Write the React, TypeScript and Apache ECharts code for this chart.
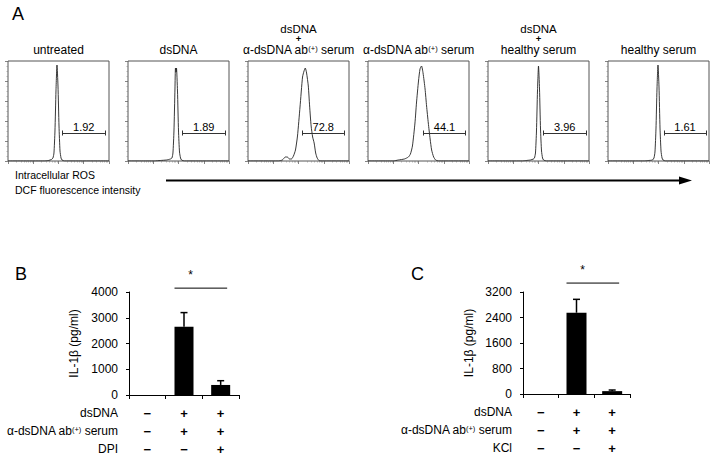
import React, { useEffect, useRef } from "react";
import * as echarts from "echarts";

// ---------- Panel A: ROS histograms (x = position on log-fluorescence scale, 0-100; y = % of max events) ----------
const histTitles: string[][] = [
  ["untreated"],
  ["dsDNA"],
  ["dsDNA", "+", "α-dsDNA ab{sup|(+)} serum"],
  ["α-dsDNA ab{sup|(+)} serum"],
  ["dsDNA", "+", "healthy serum"],
  ["healthy serum"],
];
const gateValues = ["1.92", "1.89", "72.8", "44.1", "3.96", "1.61"];
const gateStart = [54, 54, 54, 55, 55, 55.5];
const gateEnd = [96, 96, 95, 96.5, 97, 97];
const gateLevel = 28;

const histUntreated = [[0, 0], [36, 0], [40, 0.5], [43, 1.5], [44.5, 3], [45.5, 8], [46.5, 30], [47.5, 70], [48.5, 96], [49.5, 75], [50.5, 35], [51.5, 10], [52.5, 3], [53.5, 1], [56, 0], [100, 0]];
const histDsDNA = [[0, 0], [26, 0], [32, 0.5], [38, 1], [42, 2], [43.5, 3], [44.5, 8], [45.5, 30], [46.5, 72], [47, 93], [47.6, 89], [48, 93], [49, 70], [50, 30], [51, 9], [52, 3], [53, 1], [56, 0], [100, 0]];
const histDsDNAPosSerum = [[0, 0], [30, 0], [34, 1], [37, 4], [39, 4], [41, 2], [43, 2], [45, 5], [47, 11], [49, 25], [51.5, 54], [54, 84], [55.5, 90], [56.7, 93], [58, 88], [59.7, 75], [61, 55], [62.5, 35], [64, 24], [65.5, 18], [67, 8], [68.5, 3], [71, 0], [100, 0]];
const histPosSerum = [[0, 0], [25, 0], [30, 1], [36, 2], [40, 4], [42, 7], [44, 15], [46.5, 38], [48, 58], [50, 80], [51.5, 92], [53, 95], [54.5, 88], [56.5, 72], [58, 55], [59.7, 38], [61.5, 22], [63, 11], [65, 4], [67, 1], [70, 0], [100, 0]];
const histDsDNAHealthy = [[0, 0], [34, 0], [38, 0.5], [42, 1], [45, 2], [46, 3], [47, 8], [48, 30], [49, 70], [50, 95], [51, 72], [52, 32], [53, 10], [54, 3], [55, 1], [58, 0], [100, 0]];
const histHealthy = [[0, 0], [36, 0], [40, 0.5], [44, 1], [45.5, 3], [46.5, 9], [47.5, 32], [48.5, 72], [49.5, 96], [50.5, 74], [51.5, 33], [52.5, 10], [53.5, 3], [54.5, 1], [57, 0], [100, 0]];
const histograms = [histUntreated, histDsDNA, histDsDNAPosSerum, histPosSerum, histDsDNAHealthy, histHealthy];

// ---------- Panels B and C: IL-1β ----------
const groups = ["g1", "g2", "g3"];
const rowLabelsB = ["dsDNA", "α-dsDNA ab{sup|(+)} serum", "DPI"];
const rowLabelsC = ["dsDNA", "α-dsDNA ab{sup|(+)} serum", "KCl"];
const rowSignsB = [["−", "+", "+"], ["−", "+", "+"], ["−", "−", "+"]];
const rowSignsC = [["−", "+", "+"], ["−", "+", "+"], ["−", "−", "+"]];
const il1bB = [0, 2650, 390];
const errB = [0, 550, 165];
const il1bC = [0, 2550, 90];
const errC = [0, 420, 35];
const yMaxB = 4000, yStepB = 1000;
const yMaxC = 3200, yStepC = 800;
const sigB = [1, 2, 4150];
const sigC = [1, 2, 3480];

const FONT = "Liberation Sans, Arial, Helvetica, sans-serif";
const richSup = {
  sup: { fontSize: 7.5, verticalAlign: "top", lineHeight: 11, fontFamily: FONT, color: "#000" },
};

export default function App() {
  const ref = useRef<HTMLDivElement>(null);
  useEffect(() => {
    if (!ref.current) return;
    const chart = echarts.init(ref.current, null, { renderer: "svg" });

    const grids: any[] = [];
    const xAxes: any[] = [];
    const yAxes: any[] = [];
    const series: any[] = [];
    const graphics: any[] = [];

    // ---- Panel A histograms ----
    histograms.forEach((data, i) => {
      const left = 8 + 120 * i;
      grids.push({ left, top: 61, width: 101, height: 100, show: true, borderColor: "#555", borderWidth: 1 });
      xAxes.push({ gridIndex: i, type: "value", min: 0, max: 100, show: false });
      xAxes.push({
        gridIndex: i, type: "log", min: 1, max: 10000, logBase: 10, position: "bottom",
        axisLine: { show: false }, axisLabel: { show: false }, splitLine: { show: false },
        axisTick: { show: true, length: 3, lineStyle: { color: "#666", width: 0.8 } },
        minorTick: { show: true, splitNumber: 8, length: 1.5, lineStyle: { color: "#888", width: 0.6 } },
      });
      yAxes.push({
        gridIndex: i, type: "value", min: 0, max: 100, interval: 20,
        axisLine: { show: false }, axisLabel: { show: false }, splitLine: { show: false },
        axisTick: { show: true, length: 3, lineStyle: { color: "#666", width: 0.8 } },
        minorTick: { show: true, splitNumber: 4, length: 1.5, lineStyle: { color: "#888", width: 0.6 } },
      });
      series.push({
        type: "line", xAxisIndex: 2 * i, yAxisIndex: i, data, showSymbol: false, symbol: "none",
        lineStyle: { color: "#222", width: 0.9 }, smooth: 0.2,
        markLine: {
          silent: true, symbol: ["none", "none"], animation: false,
          lineStyle: { color: "#333", width: 1, type: "solid" },
          label: { show: false },
          data: [
            [
              { coord: [gateStart[i], gateLevel], label: { show: true, position: "insideMiddleTop", formatter: gateValues[i], fontSize: 11, color: "#000", distance: 1, fontFamily: FONT } },
              { coord: [gateEnd[i], gateLevel] },
            ],
            [{ coord: [gateStart[i], gateLevel - 2.5] }, { coord: [gateStart[i], gateLevel + 2.5] }],
            [{ coord: [gateEnd[i], gateLevel - 2.5] }, { coord: [gateEnd[i], gateLevel + 2.5] }],
          ],
        },
      });
      const cx = left + 50.5;
      const lines = histTitles[i];
      const ys = lines.length === 3 ? [28.5, 38.5, 50] : [50];
      lines.forEach((t, k) => {
        const isPlus = t === "+";
        const isTop = lines.length === 3 && k === 0;
        graphics.push({
          type: "text", x: cx, y: ys[k], silent: true,
          style: {
            text: t, rich: richSup, fill: "#000", align: "center", verticalAlign: "middle",
            fontSize: isPlus ? 9.5 : isTop ? 11.5 : 12, fontWeight: isPlus ? "bold" : "normal", fontFamily: FONT,
          },
        });
      });
    });

    // ---- Panels B & C ----
    const barPanels = [
      { left: 129, width: 110, top: 292, height: 103, vals: il1bB, errs: errB, yMax: yMaxB, yStep: yStepB, rows: rowLabelsB, signs: rowSignsB, sig: sigB, nameGap: 49, barW: 19 },
      { left: 523, width: 107, top: 292, height: 102, vals: il1bC, errs: errC, yMax: yMaxC, yStep: yStepC, rows: rowLabelsC, signs: rowSignsC, sig: sigC, nameGap: 48, barW: 20 },
    ];
    const rowOffsets = [12, 30, 48];
    barPanels.forEach((p, j) => {
      const gi = grids.length;
      grids.push({ left: p.left, top: p.top, width: p.width, height: p.height });
      const xMain = xAxes.length;
      xAxes.push({
        gridIndex: gi, type: "category", data: groups, boundaryGap: true,
        axisLine: { lineStyle: { color: "#000", width: 1 } },
        axisTick: { show: true, length: 4, lineStyle: { color: "#000" } },
        axisLabel: { show: false },
      });
      p.rows.forEach((name, r) => {
        xAxes.push({
          gridIndex: gi, type: "category", data: p.signs[r], position: "bottom", offset: rowOffsets[r],
          axisLine: { show: false }, axisTick: { show: false },
          axisLabel: { margin: 0, fontSize: 13, fontWeight: "bold", color: "#000", fontFamily: FONT, lineHeight: 12, verticalAlign: "top" },
          name, nameLocation: "start", nameGap: 11,
          nameTextStyle: { fontSize: 12, color: "#000", fontFamily: FONT, verticalAlign: "top", align: "right", lineHeight: 12, rich: richSup },
        });
      });
      const yi = yAxes.length;
      yAxes.push({
        gridIndex: gi, type: "value", min: 0, max: p.yMax, interval: p.yStep,
        axisLine: { show: true, lineStyle: { color: "#000", width: 1 } },
        axisTick: { show: true, length: 3, lineStyle: { color: "#000" } },
        axisLabel: { fontSize: 12, color: "#000", margin: 11, fontFamily: FONT, formatter: (v: number) => String(v) },
        splitLine: { show: false },
        name: "IL-1β (pg/ml)", nameLocation: "middle", nameGap: p.nameGap,
        nameTextStyle: { fontSize: 12, color: "#000", fontFamily: FONT },
      });
      series.push({
        type: "bar", xAxisIndex: xMain, yAxisIndex: yi, data: p.vals, barWidth: p.barW,
        itemStyle: { color: "#000" }, silent: true,
      });
      series.push({
        type: "custom", xAxisIndex: xMain, yAxisIndex: yi, silent: true, z: 5,
        data: p.vals.map((v, k) => [k, v, p.errs[k]]),
        encode: { x: 0, y: 1 },
        renderItem: (params: any, api: any) => {
          const e = api.value(2);
          if (!e) return null;
          const x = api.value(0), v = api.value(1);
          const b = api.coord([x, v]);
          const t = api.coord([x, v + e]);
          return {
            type: "group",
            children: [
              { type: "line", shape: { x1: b[0], y1: b[1], x2: t[0], y2: t[1] }, style: { stroke: "#000", lineWidth: 1.5 } },
              { type: "line", shape: { x1: t[0] - 3.5, y1: t[1], x2: t[0] + 3.5, y2: t[1] }, style: { stroke: "#000", lineWidth: 1.5 } },
            ],
          };
        },
      });
      const bw = p.barW;
      series.push({
        type: "custom", xAxisIndex: xMain, yAxisIndex: yi, silent: true, z: 5,
        data: [p.sig], encode: { x: [0, 1], y: 2 },
        renderItem: (params: any, api: any) => {
          const a = api.coord([api.value(0), api.value(2)]);
          const b = api.coord([api.value(1), api.value(2)]);
          const x1 = a[0] - bw / 2, x2 = b[0] + bw / 2 - 3;
          return {
            type: "group",
            children: [
              { type: "line", shape: { x1, y1: a[1], x2, y2: a[1] }, style: { stroke: "#000", lineWidth: 1 } },
              { type: "text", x: x1 + 16, y: a[1] - 13, style: { text: "*", fill: "#000", fontSize: 12, fontFamily: FONT, align: "center", verticalAlign: "middle" } },
            ],
          };
        },
      });
    });

    // ---- annotations ----
    graphics.push(
      { type: "text", x: 12, y: 14, silent: true, style: { text: "A", fontSize: 18, fill: "#000", fontFamily: FONT, verticalAlign: "middle" } },
      { type: "text", x: 15, y: 274, silent: true, style: { text: "B", fontSize: 18, fill: "#000", fontFamily: FONT, verticalAlign: "middle" } },
      { type: "text", x: 411, y: 274, silent: true, style: { text: "C", fontSize: 18, fill: "#000", fontFamily: FONT, verticalAlign: "middle" } },
      { type: "text", x: 15, y: 175, silent: true, style: { text: "Intracellular ROS", fontSize: 10.5, fill: "#000", fontFamily: FONT, verticalAlign: "middle" } },
      { type: "text", x: 15, y: 190, silent: true, style: { text: "DCF fluorescence intensity", fontSize: 10.5, fill: "#000", fontFamily: FONT, verticalAlign: "middle" } },
      { type: "line", silent: true, shape: { x1: 166, y1: 180.5, x2: 682, y2: 180.5 }, style: { stroke: "#000", lineWidth: 2 } },
      { type: "polygon", silent: true, shape: { points: [[679, 176.5], [692, 180.5], [679, 184.5]] }, style: { fill: "#000" } }
    );

    chart.setOption({
      animation: false,
      backgroundColor: "#fff",
      textStyle: { fontFamily: FONT },
      grid: grids,
      xAxis: xAxes,
      yAxis: yAxes,
      series,
      graphic: graphics,
    });
    return () => chart.dispose();
  }, []);
  return <div ref={ref} style={{ position: "fixed", left: 0, top: 0, width: 714, height: 460, background: "#fff" }} />;
}
